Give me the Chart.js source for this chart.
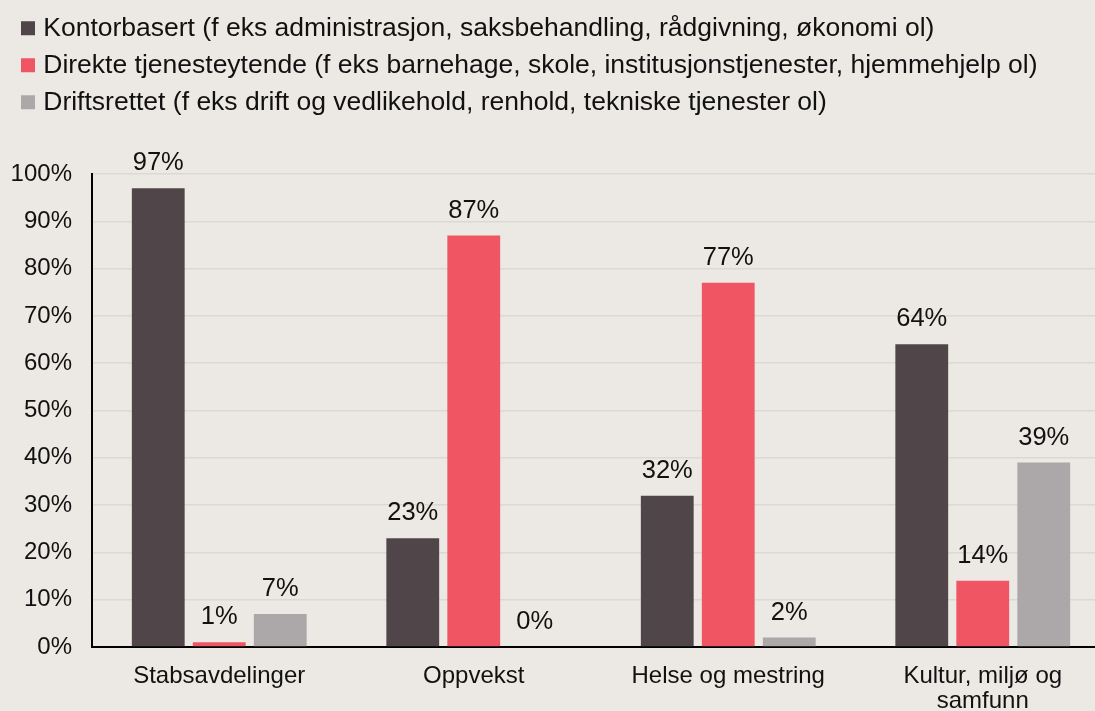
<!doctype html>
<html lang="no">
<head>
<meta charset="utf-8">
<title>Arbeidstype per sektor</title>
<script src="https://cdn.jsdelivr.net/npm/chart.js@4.4.1/dist/chart.umd.min.js"></script>
<style>
	html, body { margin:0; padding:0; background:#ece9e4; overflow:hidden; }
	#wrap { width:1110px; height:711px; position:relative; }
</style>
</head>
<body>
<div id="wrap"><canvas id="sectorChart"></canvas></div>
<script>
	var categories = ["Stabsavdelinger", "Oppvekst", "Helse og mestring", ["Kultur, miljø og", "samfunn"]];
	var seriesNames = [
		"Kontorbasert (f eks administrasjon, saksbehandling, rådgivning, økonomi ol)",
		"Direkte tjenesteytende (f eks barnehage, skole, institusjonstjenester, hjemmehjelp ol)",
		"Driftsrettet (f eks drift og vedlikehold, renhold, tekniske tjenester ol)"
	];
	var kontorbasert = [97, 23, 32, 64];
	var direkte = [1, 87, 77, 14];
	var driftsrettet = [7, 0, 2, 39];
	var yTicks = [0, 10, 20, 30, 40, 50, 60, 70, 80, 90, 100];

	var font = "'Liberation Sans', Arial, sans-serif";

	// values above each bar
	var valueLabels = {
		id:'valueLabels',
		afterDatasetsDraw:function(chart)
		{
			var ctx = chart.ctx;
			ctx.save();
			ctx.font = "25.5px " + font;
			ctx.fillStyle = "#111";
			ctx.textAlign = "center";
			ctx.textBaseline = "middle";
			chart.data.datasets.forEach(function(ds, i)
			{
				chart.getDatasetMeta(i).data.forEach(function(bar, j)
				{
					ctx.fillText(ds.data[j] + "%", bar.x, bar.y - 25);
				});
			});
			ctx.restore();
		}
	};

	// legend block takes the whole band above the plot, nudged right a bit
	var legendPlace = {
		id:'legendPlace',
		beforeInit:function(chart)
		{
			var fit = chart.legend.fit;
			chart.legend.fit = function()
			{
				fit.bind(chart.legend)();
				this.height = 169.5;
			};
		},
		afterLayout:function(chart)
		{
			chart.legend.left = 15.5;
		}
	};

	var sectorChart = new Chart("sectorChart", {
		type:'bar',
		data:{
			labels:categories,
			datasets:[
				{ label:seriesNames[0], data:kontorbasert, backgroundColor:'#50464a' },
				{ label:seriesNames[1], data:direkte, backgroundColor:'#f05563' },
				{ label:seriesNames[2], data:driftsrettet, backgroundColor:'#aca7a8' }
			]
		},
		options:{
			responsive:true,
			maintainAspectRatio:false,
			animation:false,
			layout:{ padding:{ left:0, right:0, top:4.5, bottom:0 } },
			datasets:{ bar:{ categoryPercentage:0.719, barPercentage:0.866 } },
			plugins:{
				tooltip:{ enabled:false },
				legend:{
					position:'top',
					align:'start',
					labels:{
						boxWidth:4,
						boxHeight:4,
						padding:10.5,
						color:'#111',
						font:{ family:font, size:26.5 },
						generateLabels:function(chart)
						{
							// small box + thick stroke gives a 14px square close to the text
							return chart.data.datasets.map(function(ds, i)
							{
								return {
									text:ds.label,
									fillStyle:ds.backgroundColor,
									strokeStyle:ds.backgroundColor,
									lineWidth:10,
									fontColor:'#111',
									datasetIndex:i,
									hidden:false
								};
							});
						}
					}
				}
			},
			scales:{
				x:{
					grid:{ display:false },
					border:{ color:'#000', width:2 },
					ticks:{ color:'#111', font:{ family:font, size:24, lineHeight:1.05 }, padding:9, maxRotation:0 },
					afterFit:function(scale) { scale.height = 64; }
				},
				y:{
					min:0,
					max:100,
					afterBuildTicks:function(scale) { scale.ticks = yTicks.map(function(v) { return { value:v }; }); },
					grid:{ color:'#dcd9d5', lineWidth:1.5, drawTicks:false },
					border:{ color:'#000', width:2 },
					ticks:{
						color:'#111',
						font:{ family:font, size:24 },
						padding:20,
						callback:function(v) { return v + "%"; }
					},
					afterFit:function(scale) { scale.width = 92; }
				}
			}
		},
		plugins:[valueLabels, legendPlace]
	});
</script>
</body>
</html>
